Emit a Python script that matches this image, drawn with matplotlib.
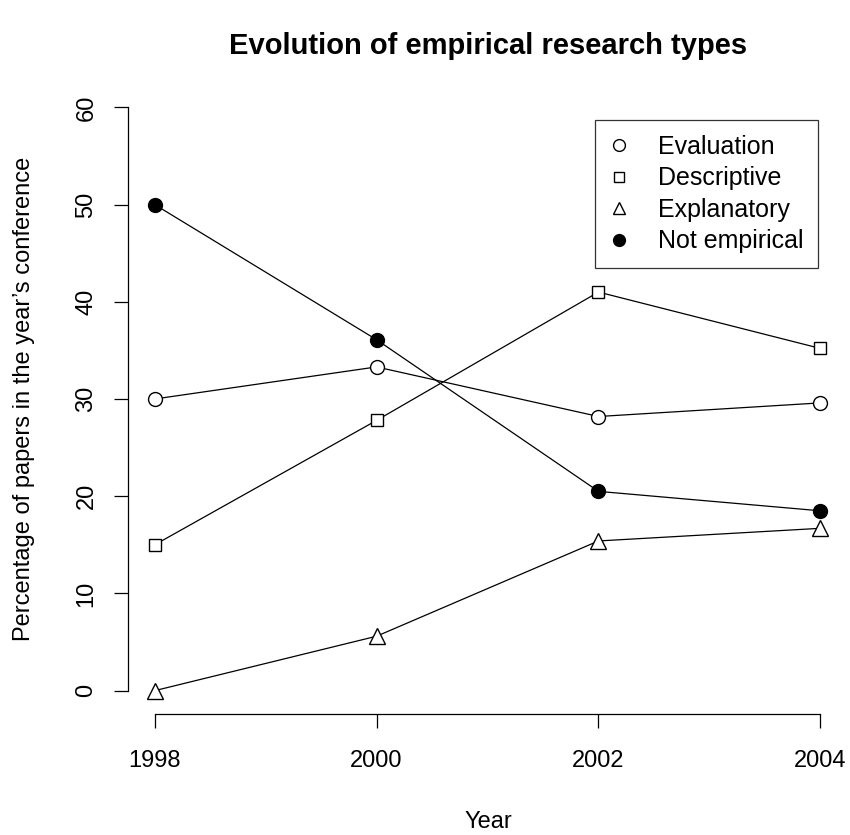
import matplotlib
matplotlib.use('Agg')
import matplotlib.pyplot as plt

plt.rcParams['font.family'] = ['Liberation Sans', 'DejaVu Sans']

# Values (percent of papers per year)
years = [1998, 2000, 2002, 2004]
evaluation = [30.0, 33.3, 28.2, 29.6]
descriptive = [15.0, 27.8, 41.0, 35.2]
explanatory = [0.0, 5.6, 15.4, 16.7]
not_empirical = [50.0, 36.1, 20.5, 18.5]

fig = plt.figure(figsize=(8.5, 8.35), dpi=100)
ax = fig.add_axes([0.1506, 0.1449, 0.8459, 0.7545])

series = [
    ('Evaluation', evaluation, 'o', 'white'),
    ('Descriptive', descriptive, 's', 'white'),
    ('Explanatory', explanatory, '^', 'white'),
    ('Not empirical', not_empirical, 'o', 'black'),
]
sizes = {'o': 10, 's': 8.5, '^': 11}
handles = []
for name, vals, mk, fc in series:
    ax.plot(years, vals, color='black', lw=0.9, zorder=2)
    ax.plot(years, vals, linestyle='none', marker=mk, markersize=sizes[mk],
            markerfacecolor=fc, markeredgecolor='black', markeredgewidth=1.0,
            zorder=3)
    h, = ax.plot([], [], linestyle='none', marker=mk,
                 markersize=sizes[mk] * 0.85, markerfacecolor=fc,
                 markeredgecolor='black', markeredgewidth=1.0, label=name)
    handles.append(h)

ax.set_xlim(1997.76, 2004.24)
ax.set_ylim(-2.4, 62.4)
ax.set_xticks(years)
ax.set_yticks(range(0, 61, 10))
ax.tick_params(labelsize=17, length=10, width=0.9, color='black')
ax.tick_params(axis='x', pad=16)
ax.tick_params(axis='y', pad=12)
for lab in ax.get_yticklabels():
    lab.set_rotation(90)
    lab.set_va('center')

for s in ['top', 'right']:
    ax.spines[s].set_visible(False)
ax.spines['left'].set_bounds(0, 60)
ax.spines['bottom'].set_bounds(1998, 2004)
for s in ['left', 'bottom']:
    ax.spines[s].set_linewidth(0.9)

fig.text(0.574, 1 - 822 / 835, 'Year', fontsize=17, ha='center', va='center')
fig.text(24 / 850, 1 - 399 / 835,
         "Percentage of papers in the year\u2019s conference", fontsize=17,
         rotation=90, ha='center', va='center')
fig.suptitle('Evolution of empirical research types', fontsize=21,
             fontweight='bold', x=0.574, y=0.962)

leg = ax.legend(handles=handles, loc='upper right',
                bbox_to_anchor=(0.9597, 0.943), borderaxespad=0,
                fontsize=18, frameon=True, fancybox=False,
                handletextpad=1.2, labelspacing=0.3, borderpad=0.6,
                handlelength=0.7)
leg.get_frame().set_edgecolor('black')
leg.get_frame().set_linewidth(0.9)

fig.savefig('out.png', dpi=100)
